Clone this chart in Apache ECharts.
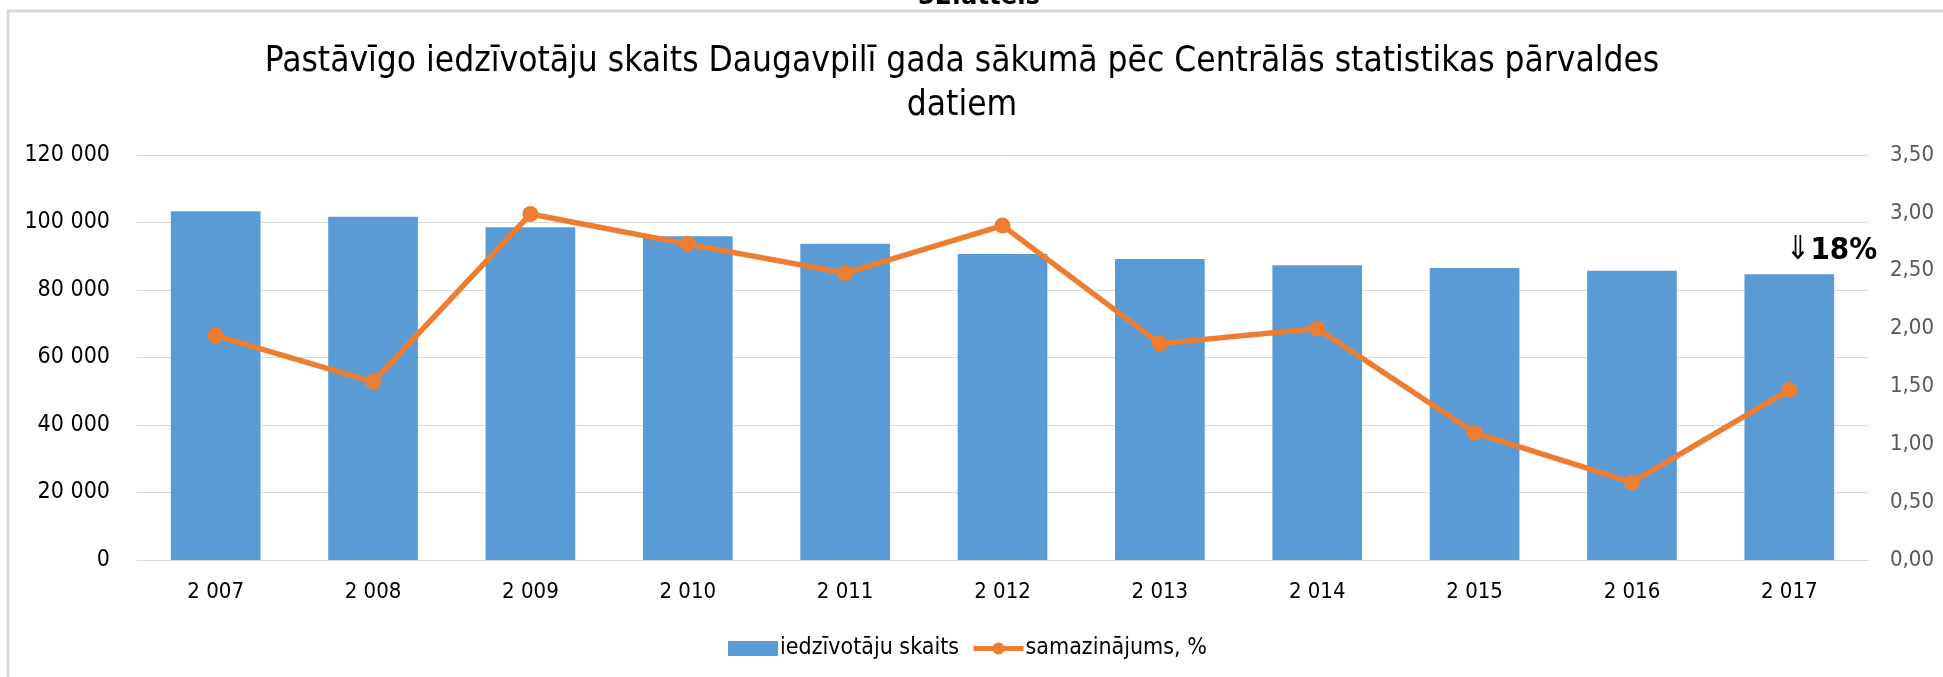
<!DOCTYPE html>
<html>
<head>
<meta charset="utf-8">
<script src="https://cdn.jsdelivr.net/npm/echarts@6/dist/echarts.min.js"></script>
<style>
    html, body {margin:0;padding:0;background:#fff;}
    #chart {width:1943px;height:677px;}
</style>
</head>
<body>
<div id="chart"></div>
<script>
    var years = [2007, 2008, 2009, 2010, 2011, 2012, 2013, 2014, 2015, 2016, 2017];
    var population = [103300, 101700, 98600, 95900, 93700, 90700, 89200, 87300, 86500, 85700, 84700];
    var decrease = [1.94, 1.54, 2.99, 2.73, 2.48, 2.89, 1.87, 2.00, 1.10, 0.67, 1.47];
    var totalDrop = '18%';

    var font = "'DejaVu Sans Condensed', 'DejaVu Sans', sans-serif";

    // 103300 -> "103 300"
    var spaced = function (v) {
        return String(v).replace(/\B(?=(\d{3})+(?!\d))/g, ' ');
    };

    var barData = population.map(function (v, i) {
        if (i !== population.length - 1) return v;
        return {
            value: v,
            label: {
                show: true,
                position: 'top',
                offset: [42, -2],
                formatter: '{a|⇓}{b|' + totalDrop + '}',
                rich: {
                    a: {fontFamily: font, fontSize: 33, color: '#000'},
                    b: {fontFamily: font, fontSize: 31, fontWeight: 'bold', color: '#000'}
                }
            }
        };
    });

    var chart = echarts.init(document.getElementById('chart'));
    chart.setOption({
        animation: false,
        textStyle: {fontFamily: font},
        graphic: [
            {type: 'rect', shape: {x: 8, y: 11, width: 2000, height: 700}, style: {fill: 'none', stroke: '#d9d9d9', lineWidth: 3}, z: -1},
            // caption of the figure, cut off by the page edge
            {type: 'text', x: 979, y: 10, style: {text: '32.attēls', fontFamily: font, fontSize: 27, fontWeight: 'bold', fill: '#000', textAlign: 'center', textVerticalAlign: 'bottom'}},
            {type: 'text', x: 962, y: 62, style: {text: 'Pastāvīgo iedzīvotāju skaits Daugavpilī gada sākumā pēc Centrālās statistikas pārvaldes', fontFamily: font, fontSize: 35, fill: '#000', textAlign: 'center', textVerticalAlign: 'middle'}},
            {type: 'text', x: 962, y: 106, style: {text: 'datiem', fontFamily: font, fontSize: 35, fill: '#000', textAlign: 'center', textVerticalAlign: 'middle'}}
        ],
        legend: {
            left: 723,
            top: 632,
            itemWidth: 50,
            itemHeight: 15,
            itemGap: 12,
            lineStyle: {width: 5},
            textStyle: {fontFamily: font, fontSize: 23, color: '#000', padding: [0, 0, 0, -3]},
            data: [{name: 'iedzīvotāju skaits', icon: 'rect'}, 'samazinājums, %']
        },
        grid: {left: 137, right: 75, top: 155, bottom: 117},
        xAxis: {
            type: 'category',
            data: years,
            axisLine: {lineStyle: {color: '#d9d9d9', width: 1}},
            axisTick: {show: false},
            axisLabel: {formatter: spaced, fontFamily: font, fontSize: 22, color: '#000', margin: 21}
        },
        yAxis: [
            {
                type: 'value',
                min: 0,
                max: 120000,
                interval: 20000,
                axisLine: {show: false},
                axisTick: {show: false},
                splitLine: {lineStyle: {color: '#d9d9d9', width: 1}},
                axisLabel: {formatter: spaced, fontFamily: font, fontSize: 23, color: '#000', margin: 27}
            },
            {
                type: 'value',
                position: 'right',
                min: 0,
                max: 3.5,
                interval: 0.5,
                axisLine: {show: false},
                axisTick: {show: false},
                splitLine: {show: false},
                axisLabel: {
                    formatter: function (v) { return v.toFixed(2).replace('.', ','); },
                    fontFamily: font, fontSize: 22, color: '#595959', margin: 22
                }
            }
        ],
        series: [
            {
                name: 'iedzīvotāju skaits',
                type: 'bar',
                barWidth: '57%',
                itemStyle: {color: '#5b9bd5'},
                data: barData
            },
            {
                name: 'samazinājums, %',
                type: 'line',
                yAxisIndex: 1,
                symbol: 'circle',
                symbolSize: 16,
                lineStyle: {color: '#ed7d31', width: 5.5},
                itemStyle: {color: '#ed7d31'},
                data: decrease
            }
        ]
    });
</script>
</body>
</html>
